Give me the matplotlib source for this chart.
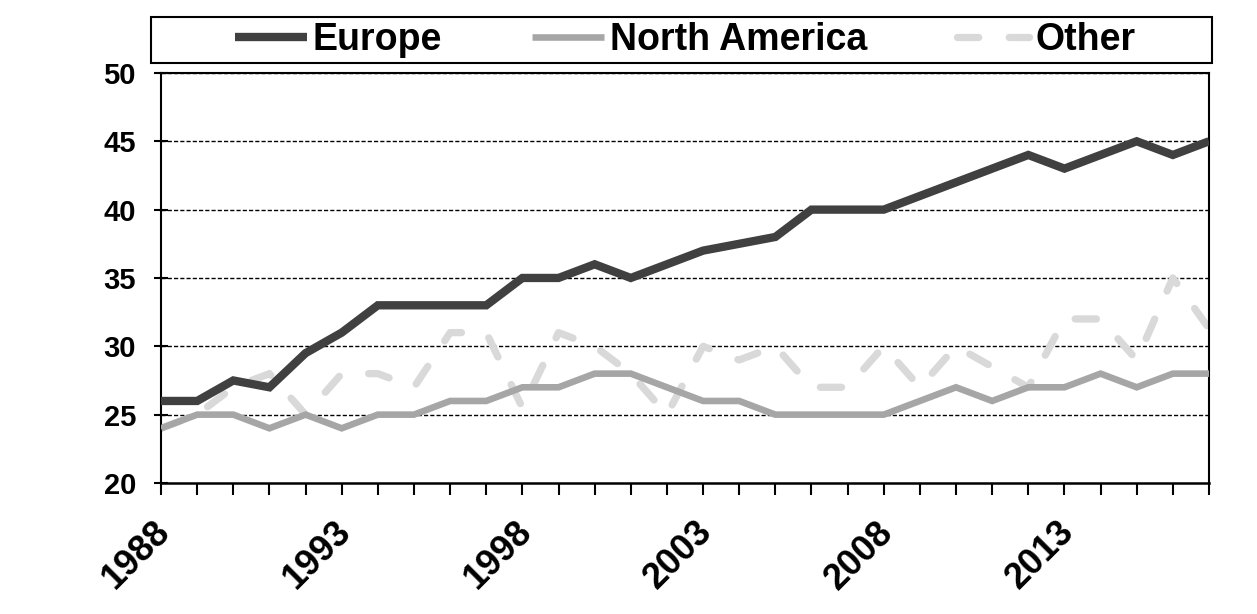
import matplotlib
matplotlib.use("Agg")
import matplotlib.pyplot as plt
from matplotlib.patches import Rectangle
from matplotlib.transforms import ScaledTranslation

years = list(range(1988, 2018))
europe = [26, 26, 27.5, 27, 29.5, 31, 33, 33, 33, 33,
          35, 35, 36, 35, 36, 37, 37.5, 38, 40, 40,
          40, 41, 42, 43, 44, 43, 44, 45, 44, 45]
north_america = [24, 25, 25, 24, 25, 24, 25, 25, 26, 26,
                 27, 27, 28, 28, 27, 26, 26, 25, 25, 25,
                 25, 26, 27, 26, 27, 27, 28, 27, 28, 28]
other = [24, 25, 27, 28, 25, 28, 28, 27, 31, 31,
         25.5, 31, 30, 28, 25, 30, 29, 30, 27, 27,
         30, 27, 30, 28.5, 27, 32, 32, 29, 35, 31.3]
series_names = ["Europe", "North America", "Other"]
tick_years = [1988, 1993, 1998, 2003, 2008, 2013]

plt.rcParams["font.family"] = ["Liberation Sans", "DejaVu Sans"]
plt.rcParams["font.weight"] = "bold"

fig = plt.figure(figsize=(12.57, 6.14), dpi=100)
ax = fig.add_axes([0.1281, 0.2134, 0.8337, 0.6678])

ax.plot(years, europe, color="#404040", lw=6.0, solid_joinstyle="miter",
        solid_capstyle="butt", label=series_names[0], zorder=4)
ax.plot(years, north_america, color="#a6a6a6", lw=4.75, solid_joinstyle="miter",
        solid_capstyle="butt", label=series_names[1], zorder=3)
ax.plot(years, other, color="#d9d9d9", lw=5.25, ls=(0, (2.9, 4.2)),
        dash_capstyle="round", label=series_names[2], zorder=2)

ax.set_xlim(1988, 2017)
ax.set_ylim(20, 50)
ax.set_yticks(range(20, 51, 5))
ax.set_xticks(years, minor=True)
ax.set_xticks(tick_years)
ax.set_xticklabels([str(y) for y in tick_years])

for v in range(25, 51, 5):
    ax.axhline(v, color="black", lw=1.0, ls=(0, (3, 1.5)), zorder=1)

for s in ax.spines.values():
    s.set_color("black")
    s.set_linewidth(1.5)
ax.spines["bottom"].set_linewidth(1.8)

ax.tick_params(axis="y", direction="inout", length=10, width=1.5,
               labelsize=21, pad=13)
ax.tick_params(axis="x", which="both", direction="out", length=8.6, width=1.5)
ax.tick_params(axis="x", which="major", labelsize=26, pad=23)
offset = ScaledTranslation(3 / 72, 0, fig.dpi_scale_trans)
for lab in ax.get_xticklabels():
    lab.set_rotation(45)
    lab.set_rotation_mode("anchor")
    lab.set_ha("right")
    lab.set_va("center")
    lab.set_transform(lab.get_transform() + offset)
for lab in ax.get_yticklabels() + ax.get_xticklabels():
    lab.set_fontweight("bold")

# legend box drawn above the plot
fig.patches.append(Rectangle((0.1201, 0.8974), 0.8441, 0.0749,
                             transform=fig.transFigure, fill=False,
                             edgecolor="black", lw=1.5))
fig.legend(loc="center", bbox_to_anchor=(0.545, 0.935), ncol=3,
           frameon=False, prop={"size": 27, "weight": "bold"},
           handlelength=1.92, handletextpad=0.16, columnspacing=2.4,
           borderpad=0.0)

fig.savefig("out.png", dpi=100, facecolor="white")
